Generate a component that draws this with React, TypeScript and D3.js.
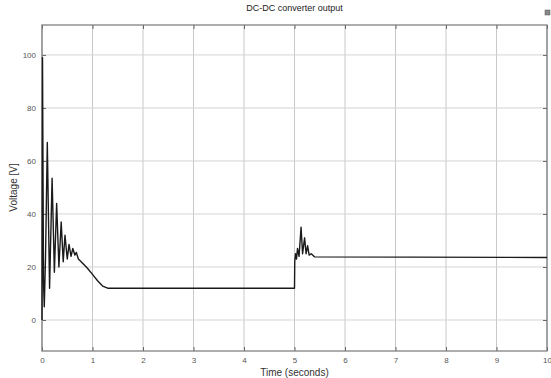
import React, { useRef, useEffect } from "react";
import * as d3 from "d3";

const timeSec = [
  0, 0.01, 0.03, 0.045, 0.07, 0.105, 0.15, 0.2, 0.245, 0.29, 0.335, 0.38, 0.42, 0.455, 0.5,
  0.535, 0.575, 0.61, 0.65, 0.68, 0.72, 0.8, 0.9, 1.0, 1.1, 1.2, 1.3, 5.0, 5.005,
  5.02, 5.04, 5.06, 5.09, 5.13, 5.16, 5.2, 5.23, 5.26, 5.29, 5.33, 5.4, 10,
];
const voltage = [
  0, 99, 14, 5, 24, 67, 12, 53.5, 18, 44, 20, 37, 22, 32, 23,
  28.5, 24, 27, 24.5, 25.5, 23, 21.5, 19.5, 17.2, 14.8, 12.8, 12, 12, 22,
  25, 23, 27, 24, 35, 25, 31, 25, 28, 24.5, 25, 23.8, 23.6,
];
const xTicks = [0, 1, 2, 3, 4, 5, 6, 7, 8, 9, 10];
const yTicks = [0, 20, 40, 60, 80, 100];

const W = 551;
const H = 378;
const margin = { top: 25, right: 4, bottom: 27, left: 42 };

const App = () => {
  const svgRef = useRef<SVGSVGElement>(null);

  useEffect(() => {
    const svg = d3.select(svgRef.current);
    svg.selectAll("*").remove();

    const innerW = W - margin.left - margin.right;
    const innerH = H - margin.top - margin.bottom;

    const x = d3.scaleLinear().domain([0, 10]).range([0, innerW]);
    const y = d3.scaleLinear().domain([-11.7, 111.3]).range([innerH, 0]);

    const g = svg.append("g").attr("transform", `translate(${margin.left},${margin.top})`);

    /*** grid ***/
    g.selectAll(".vgrid")
      .data(xTicks)
      .enter()
      .append("line")
      .attr("x1", d => x(d))
      .attr("x2", d => x(d))
      .attr("y1", 0)
      .attr("y2", innerH)
      .attr("stroke", "#c8c8c8")
      .attr("stroke-width", 1);

    g.selectAll(".hgrid")
      .data(yTicks)
      .enter()
      .append("line")
      .attr("x1", 0)
      .attr("x2", innerW)
      .attr("y1", d => y(d))
      .attr("y2", d => y(d))
      .attr("stroke", "#d4d4d4")
      .attr("stroke-width", 1);

    /*** axes (matlab style, ticks inside) ***/
    const tickColor = "#666";
    const styleAxis = (sel: any) => {
      sel.select(".domain").remove();
      sel.selectAll("line").attr("stroke", tickColor);
      sel.selectAll("text")
        .attr("fill", "#555")
        .style("font-family", "Liberation Sans, Arial, sans-serif")
        .style("font-size", "8px");
    };

    g.append("g")
      .attr("transform", `translate(0,${innerH})`)
      .call(d3.axisBottom(x).tickValues(xTicks).tickSize(-4).tickPadding(6).tickFormat(d3.format("d")))
      .call(styleAxis);

    g.append("g")
      .call(d3.axisTop(x).tickValues(xTicks).tickSize(-4).tickFormat(() => ""))
      .call(styleAxis);

    g.append("g")
      .call(d3.axisLeft(y).tickValues(yTicks).tickSize(-4).tickPadding(6).tickFormat(d3.format("d")))
      .call(styleAxis);

    g.append("g")
      .attr("transform", `translate(${innerW},0)`)
      .call(d3.axisRight(y).tickValues(yTicks).tickSize(-4).tickFormat(() => ""))
      .call(styleAxis);

    g.append("rect")
      .attr("width", innerW)
      .attr("height", innerH)
      .attr("fill", "none")
      .attr("stroke", "#777")
      .attr("stroke-width", 1.2);

    /*** trace ***/
    const pts = timeSec.map((t, i) => [t, voltage[i]] as [number, number]);
    const line = d3.line<[number, number]>()
      .x(d => x(d[0]))
      .y(d => y(d[1]));

    g.append("path")
      .datum(pts)
      .attr("fill", "none")
      .attr("stroke", "#1a1a1a")
      .attr("stroke-width", 1.4)
      .attr("stroke-linejoin", "round")
      .attr("d", line);

    /*** labels ***/
    svg.append("text")
      .attr("x", margin.left + innerW / 2)
      .attr("y", 11)
      .attr("text-anchor", "middle")
      .attr("fill", "#222")
      .style("font-family", "Liberation Sans, Arial, sans-serif")
      .style("font-size", "9px")
      .text("DC-DC converter output");

    svg.append("text")
      .attr("x", margin.left + innerW / 2)
      .attr("y", 376)
      .attr("text-anchor", "middle")
      .attr("fill", "#333")
      .style("font-family", "Liberation Sans, Arial, sans-serif")
      .style("font-size", "10px")
      .text("Time (seconds)");

    svg.append("text")
      .attr("transform", `translate(17,${margin.top + y(50)}) rotate(-90)`)
      .attr("text-anchor", "middle")
      .attr("fill", "#333")
      .style("font-family", "Liberation Sans, Arial, sans-serif")
      .style("font-size", "10px")
      .text("Voltage [V]");

    // little dock icon in the corner
    svg.append("rect")
      .attr("x", 545)
      .attr("y", 10)
      .attr("width", 5)
      .attr("height", 5)
      .attr("fill", "#888")
      .attr("stroke", "#555")
      .attr("stroke-width", 0.5);
  }, []);

  return (
    <svg
      ref={svgRef}
      width={W}
      height={H}
      style={{ position: "absolute", left: 0, top: 0, background: "#fff" }}
    />
  );
};

export default App;
